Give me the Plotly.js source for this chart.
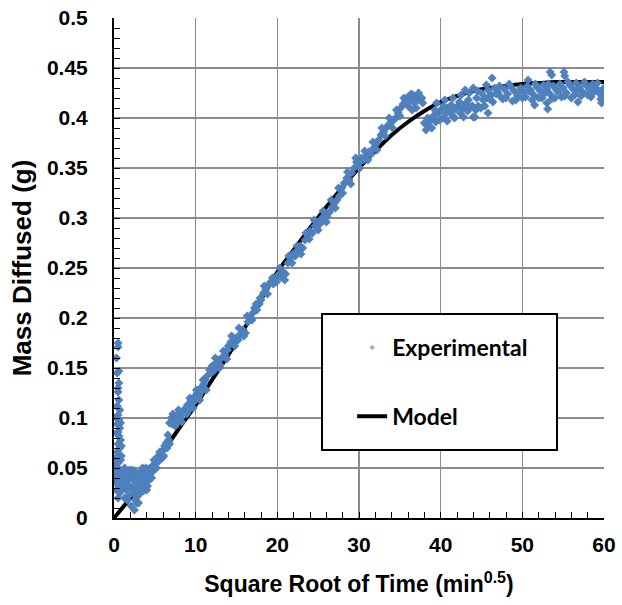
<!DOCTYPE html>
<html>
<head>
<meta charset="utf-8">
<script src="https://cdn.plot.ly/plotly-3.0.1.min.js"></script>
<style>html,body{margin:0;padding:0;background:#fff;}#chart{width:622px;height:605px;}</style>
</head>
<body>
<div id="chart"></div>
<script>
// Model curve
const modelX = [0,2,4,6,8,10,12,14,16,18,20,22,24,26,28,30,32,34,36,38,40,42,44,46,48,50,52,54,56,58,60];
const modelY = [0,0.02,0.042,0.066,0.09,0.113,0.138,0.163,0.19,0.218,0.246,0.268,0.29,0.311,0.331,0.35,0.367,0.383,0.396,0.407,0.416,0.422,0.427,0.43,0.432,0.434,0.435,0.436,0.436,0.436,0.436];

// Experimental points
const expX = [
0.5,0.5,0.4,0.6,0.5,0.6,0.4,0.7,0.5,0.6,0.4,0.7,0.5,0.6,0.8,0.5,0.7,0.4,0.6,0.8,0.5,0.3,0.7,0.0,0.2,0.4,0.1,0.6,0.3,0.9,
1.0,1.2,1.4,1.5,1.7,1.8,2.0,2.1,2.2,2.3,2.4,2.5,2.6,2.7,2.8,2.9,3.0,3.1,3.2,3.3,3.4,3.5,3.6,3.7,3.8,3.9,4.0,4.1,4.2,4.3,4.4,4.5,1.3,1.9,2.5,3.0,
4.7,4.9,5.1,5.3,5.5,5.7,5.9,6.0,6.2,6.4,6.5,6.7,6.8,
6.8,7.0,7.2,7.4,7.6,7.8,8.0,8.2,8.4,8.6,
8.8,9.0,9.2,9.4,9.6,9.8,10.0,10.2,10.4,10.6,10.8,11.0,11.2,
11.4,11.7,12.0,12.2,12.5,12.8,13.0,13.3,13.6,13.8,
14.0,14.3,14.6,14.9,15.2,15.5,15.8,16.1,
16.4,16.7,17.0,17.2,17.5,17.8,18.0,
18.3,18.6,18.9,19.2,19.5,19.8,20.1,20.4,20.7,21.0,
21.3,21.6,21.9,22.2,22.5,22.8,23.1,
23.4,23.7,24.0,24.3,24.6,24.9,25.2,25.5,25.8,26.1,
26.4,26.7,27.0,27.3,27.6,
27.9,28.2,28.5,28.8,29.1,29.4,29.7,
30.0,30.3,30.6,30.9,31.2,31.5,31.8,
32.1,32.4,32.7,33.0,33.3,33.6,33.9,34.2,34.5,
34.8,35.1,35.4,35.7,36.0,36.3,36.6,36.9,37.2,37.5,37.8,36.0,36.5,37.0,
38.0,38.2,38.5,38.8,39.1,39.4,39.7,40.0,40.3,40.6,40.9,41.2,41.5,41.8,42.1,42.4,42.7,43.0,43.3,43.6,44.0,44.3,44.6,45.8,
39.5,40.5,41.5,42.5,43.0,43.5,44.0,44.5,
45.0,45.4,45.8,46.2,46.6,47.0,47.4,47.8,48.2,48.6,49.0,49.4,49.8,50.2,50.6,51.0,51.4,51.8,52.2,52.6,53.0,53.4,53.8,54.2,54.6,55.0,55.4,55.8,56.2,56.6,57.0,57.4,57.8,58.2,58.6,59.0,59.4,59.8,
45.2,46.4,47.6,48.8,50.0,51.2,52.4,53.6,54.8,56.0,57.2,58.4,59.6,
46.3,50.7,53.4,53.6,55.1,55.2,51.5,53.0,53.1,56.8,59.7,59.8,44.2,
0.3,0.6,0.5,0.3,0.8,0.3,0.9,0.2,0.9,0.1,0.8,0.5,0.7,
1.1,1.3,1.6,1.6,2.0,2.2,2.4,2.7,2.8,3.2,3.5,3.6,3.9,4.0,4.3,4.6,4.8,5.0,2.9,1.8,
5.2,5.6,6.1,6.6,7.1,7.5,7.9,8.3,8.9,9.3,9.7,10.1,10.5,10.9,11.3,11.9,12.4,12.9,13.4,13.9,14.4,14.8,15.3,15.9,16.3,16.9,17.4,17.9,18.4,18.8,19.4,19.9,20.3,20.9,21.4,21.8,22.4,22.9,23.5,23.9,24.5,25.0,25.6,26.0,26.6,27.1,27.5,28.0,28.6,29.0,29.6,30.1,30.7,31.1,31.7,32.2,32.8,33.2,33.7,34.1,34.6,35.0,35.5,35.9,36.4,36.8,37.3,37.7,
38.4,38.9,39.3,39.9,40.4,40.8,41.3,41.7,42.3,42.8,43.4,43.9,44.4,44.9,45.4,45.7,
45.6,46.0,46.8,47.2,48.0,48.4,49.2,49.6,50.4,50.8,51.6,52.0,52.8,53.2,54.0,54.4,55.2,55.6,56.4,56.8,57.6,58.0,58.8,59.2,59.9,60.0
];
const expY = [
0.171,0.175,0.145,0.147,0.126,0.118,0.112,0.108,0.103,0.098,0.094,0.09,0.086,0.082,0.078,0.074,0.07,0.066,0.062,0.058,0.055,0.051,0.048,0.044,0.046,0.04,0.036,0.032,0.028,0.044,
0.042,0.035,0.046,0.028,0.038,0.022,0.044,0.012,0.031,0.04,0.025,0.047,0.018,0.036,0.029,0.043,0.033,0.024,0.046,0.038,0.03,0.041,0.027,0.048,0.035,0.04,0.044,0.032,0.049,0.038,0.042,0.05,0.02,0.048,0.008,0.015,
0.052,0.058,0.055,0.061,0.057,0.064,0.06,0.068,0.072,0.075,0.07,0.078,0.074,
0.095,0.1,0.104,0.098,0.102,0.097,0.103,0.1,0.106,0.108,
0.11,0.113,0.108,0.118,0.115,0.121,0.118,0.125,0.122,0.13,0.127,0.134,0.138,
0.142,0.148,0.152,0.147,0.155,0.158,0.153,0.161,0.163,0.159,
0.172,0.176,0.174,0.18,0.178,0.184,0.188,0.185,
0.196,0.2,0.205,0.21,0.208,0.214,0.218,
0.225,0.229,0.233,0.236,0.234,0.24,0.243,0.241,0.246,0.244,
0.255,0.26,0.264,0.262,0.268,0.272,0.27,
0.278,0.283,0.287,0.285,0.292,0.296,0.294,0.3,0.303,0.301,
0.306,0.311,0.315,0.318,0.322,
0.33,0.335,0.34,0.338,0.345,0.35,0.356,
0.355,0.36,0.358,0.362,0.366,0.364,0.37,
0.374,0.378,0.383,0.386,0.39,0.393,0.395,0.398,0.4,
0.405,0.41,0.414,0.418,0.421,0.419,0.423,0.42,0.422,0.418,0.415,0.412,0.408,0.41,
0.395,0.388,0.392,0.398,0.402,0.396,0.405,0.408,0.4,0.404,0.41,0.406,0.402,0.409,0.412,0.405,0.41,0.414,0.407,0.411,0.401,0.408,0.412,0.405,
0.415,0.418,0.42,0.423,0.428,0.425,0.43,0.427,
0.425,0.42,0.428,0.423,0.43,0.426,0.421,0.429,0.424,0.431,0.427,0.422,0.43,0.426,0.432,0.428,0.423,0.431,0.427,0.433,0.429,0.424,0.432,0.428,0.434,0.43,0.425,0.433,0.429,0.435,0.431,0.426,0.433,0.429,0.434,0.43,0.425,0.428,
0.418,0.416,0.419,0.417,0.42,0.418,0.42,0.419,0.421,0.42,0.422,0.421,0.419,
0.44,0.438,0.446,0.443,0.446,0.442,0.413,0.415,0.409,0.416,0.415,0.422,0.401,
0.16,0.135,0.13,0.1,0.095,0.085,0.072,0.06,0.062,0.052,0.038,0.02,0.025,
0.03,0.05,0.04,0.018,0.03,0.048,0.038,0.045,0.015,0.028,0.05,0.035,0.05,0.028,0.046,0.04,0.047,0.05,0.022,0.033,
0.05,0.066,0.062,0.083,0.094,0.092,0.108,0.096,0.104,0.12,0.11,0.128,0.118,0.138,0.128,0.145,0.16,0.15,0.167,0.168,0.182,0.172,0.19,0.182,0.202,0.198,0.214,0.22,0.232,0.224,0.24,0.236,0.25,0.238,0.262,0.255,0.272,0.264,0.285,0.279,0.298,0.288,0.307,0.296,0.318,0.31,0.33,0.325,0.346,0.334,0.36,0.35,0.367,0.358,0.376,0.368,0.39,0.382,0.4,0.39,0.408,0.402,0.42,0.416,0.424,0.415,0.425,0.42,
0.4,0.39,0.408,0.398,0.412,0.397,0.413,0.4,0.416,0.401,0.418,0.412,0.42,0.41,0.412,0.42,
0.433,0.419,0.424,0.432,0.42,0.434,0.418,0.426,0.421,0.427,0.434,0.42,0.425,0.434,0.42,0.426,0.422,0.436,0.423,0.428,0.436,0.423,0.426,0.435,0.42,0.43
];

const xTicks = [0,10,20,30,40,50,60];
const yTicks = [0,0.05,0.1,0.15,0.2,0.25,0.3,0.35,0.4,0.45,0.5];
const yTickText = ['0','0.05','0.1','0.15','0.2','0.25','0.3','0.35','0.4','0.45','0.5'];

const FONT = 'Liberation Sans, Arial, sans-serif';
const tickFont = {family: FONT, size: 21, color: '#000'};
const bold = s => '<b>' + s + '</b>';

const traces = [
  {
    x: modelX, y: modelY, type: 'scatter', mode: 'lines', name: '<b>Model</b>',
    line: {color: '#000', width: 4, shape: 'spline'},
    legendgroup: 'm', legendrank: 2
  },
  {
    x: expX, y: expY, type: 'scatter', mode: 'markers', name: '<b>Experimental</b>',
    marker: {symbol: 'diamond', size: 6.5, color: '#4f81bd', line: {color: '#4a7cba', width: 0.5}},
    legendgroup: 'e', legendrank: 1, showlegend: false
  },
  {
    x: [null], y: [null], type: 'scatter', mode: 'markers', name: '<b>Experimental</b>',
    marker: {symbol: 'diamond', size: 4, color: '#8fb0da'},
    legendgroup: 'e', legendrank: 1
  }
];

const layout = {
  width: 622, height: 605,
  margin: {l: 114, r: 18, t: 18, b: 87},
  paper_bgcolor: '#fff', plot_bgcolor: '#fff',
  showlegend: true,
  legend: {
    x: 0.486, y: 0.384, xanchor: 'left', yanchor: 'top',
    bgcolor: 'rgba(0,0,0,0)', borderwidth: 0,
    font: {family: 'Lato, Open Sans, sans-serif', size: 23, color: '#000'},
    tracegroupgap: 36, traceorder: 'grouped', itemsizing: 'trace'
  },
  xaxis: {
    range: [0, 60], tickvals: xTicks, ticktext: xTicks.map(v => bold(String(v))),
    showgrid: true, gridcolor: '#8c8c8c', gridwidth: 1.5,
    showline: true, linecolor: '#000', linewidth: 2,
    ticks: 'inside', ticklen: 0, tickfont: tickFont, ticklabelstandoff: 7,
    minor: {dtick: 2, ticks: 'inside', ticklen: 6, tickcolor: '#000', tickwidth: 1, showgrid: false},
    zeroline: false,
    title: {text: '<b>Square Root of Time (min<sup>0.5</sup>)</b>', font: {family: FONT, size: 23, color: '#000'}, standoff: 21}
  },
  yaxis: {
    range: [0, 0.5], tickvals: yTicks, ticktext: yTickText.map(bold),
    showgrid: true, gridcolor: '#8c8c8c', gridwidth: 1.5,
    showline: true, linecolor: '#000', linewidth: 2,
    ticks: 'inside', ticklen: 0, tickfont: tickFont, ticklabelstandoff: 20,
    minor: {dtick: 0.01, ticks: 'inside', ticklen: 6, tickcolor: '#000', tickwidth: 1, showgrid: false},
    zeroline: false,
    title: {text: '<b>Mass Diffused (g)</b>', font: {family: FONT, size: 26, color: '#000'}, standoff: 8}
  },
  shapes: [
    {type: 'rect', xref: 'paper', yref: 'paper', layer: 'above',
     x0: (322-114)/490, x1: (557-114)/490, y0: (518-450)/500, y1: (518-314)/500,
     fillcolor: '#fff', line: {color: '#000', width: 2}}
  ]
};

Plotly.newPlot('chart', traces, layout, {displayModeBar: false, staticPlot: true});
</script>
</body>
</html>
